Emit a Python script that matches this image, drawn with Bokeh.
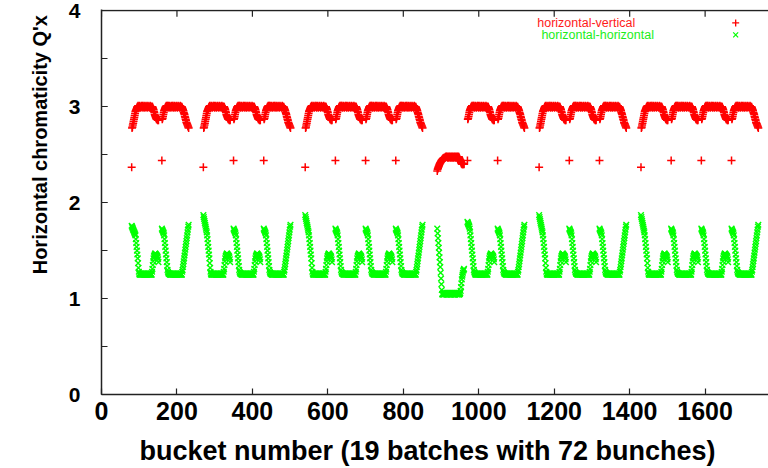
import numpy as np
from bokeh.plotting import figure
from bokeh.models import (Range1d, LinearAxis, SingleIntervalTicker, FixedTicker,
                          Label, Title, ColumnDataSource)
from bokeh.embed import file_html
from bokeh.resources import INLINE

# ---------------- data ----------------
BUNCHES_PER_BATCH = 72
BATCH_STARTS = [80, 160, 270, 350, 430, 540, 620, 700, 780, 890,
                970, 1050, 1160, 1240, 1320, 1430, 1510, 1590, 1670]
TRAIN_SIZES = [2, 3, 4, 3, 3, 4]
SPECIAL_BATCH = 9          # the batch with the low chromaticities
X_TICKS = [0, 200, 400, 600, 800, 1000, 1200, 1400, 1600]

# horizontal-vertical (red), per-bunch segments of a batch
RED_HEAD_TRAIN = [2.37, 2.78, 2.79, 2.81, 2.83, 2.85, 2.87, 2.89, 2.91, 2.93,
                  2.95, 2.96, 2.97, 2.98, 2.99, 3.00]
RED_HEAD_FOLLOW = [2.44, 2.87, 2.88, 2.90, 2.92, 2.94, 2.96, 2.97, 2.98, 2.99,
                   3.00, 3.00, 3.01, 3.00, 3.00, 3.01]
RED_MID = [3.00, 3.01, 3.00, 2.99, 3.00, 3.01, 3.00, 3.00, 2.99, 3.00,
           3.01, 3.00, 3.00, 3.01, 2.99, 3.00, 3.00, 3.01, 3.00, 2.99,
           3.00, 3.00, 3.01, 3.00, 3.00, 2.99, 3.00, 3.01, 3.00, 3.00,
           3.00, 2.99, 3.00, 3.01, 3.00, 3.00, 2.99, 3.00]
RED_TAIL_INNER = [3.00, 3.00, 2.99, 2.98, 2.97, 2.95, 2.94, 2.92, 2.91, 2.90,
                  2.89, 2.88, 2.87, 2.87, 2.87, 2.86, 2.87, 2.86]
RED_TAIL_LAST = [2.99, 2.98, 2.97, 2.96, 2.94, 2.93, 2.92, 2.90, 2.89, 2.87,
                 2.86, 2.84, 2.83, 2.82, 2.81, 2.80, 2.79, 2.78]
RED_SPECIAL_RISE = [2.33, 2.35, 2.36, 2.37, 2.38, 2.39, 2.40, 2.41, 2.42, 2.42,
                    2.43, 2.44, 2.44, 2.45, 2.45, 2.46, 2.46, 2.46, 2.47, 2.47,
                    2.47, 2.47, 2.48, 2.48, 2.48, 2.48]
RED_SPECIAL_FLAT = [2.48, 2.47, 2.48, 2.48, 2.47, 2.48, 2.48, 2.48, 2.47, 2.48,
                    2.48, 2.47, 2.48, 2.48, 2.48, 2.47, 2.48, 2.48, 2.47, 2.48,
                    2.48, 2.48, 2.47, 2.48, 2.48, 2.47, 2.48, 2.48, 2.48, 2.47,
                    2.48, 2.48]
RED_SPECIAL_DROP = [2.47, 2.46, 2.45, 2.44, 2.43, 2.42, 2.41, 2.41, 2.40, 2.40,
                    2.41, 2.40, 2.41, 2.40]

# horizontal-horizontal (green), per-bunch segments of a batch
GREEN_HEAD_FIRST = [1.76, 1.75, 1.74, 1.73, 1.72, 1.71, 1.70, 1.69, 1.68, 1.67,
                    1.66, 1.62, 1.58, 1.54, 1.50, 1.46, 1.42, 1.37, 1.32, 1.28]
GREEN_HEAD_TRAIN = [1.87, 1.85, 1.83, 1.81, 1.79, 1.77, 1.75, 1.73, 1.71, 1.69,
                    1.66, 1.62, 1.58, 1.54, 1.50, 1.46, 1.42, 1.37, 1.32, 1.28]
GREEN_HEAD_FOLLOW = [1.73, 1.72, 1.71, 1.70, 1.69, 1.68, 1.66, 1.62, 1.58, 1.54,
                     1.50, 1.46, 1.42, 1.38, 1.34, 1.30, 1.28, 1.27, 1.26, 1.26]
GREEN_HEAD_AFTER_SPECIAL = [1.80, 1.79, 1.78, 1.77, 1.76, 1.75, 1.73, 1.70, 1.66, 1.62,
                            1.58, 1.54, 1.50, 1.46, 1.42, 1.38, 1.34, 1.30, 1.28, 1.27]
GREEN_MID = [1.26, 1.25, 1.26, 1.25, 1.25, 1.26, 1.25, 1.26, 1.25, 1.25,
             1.26, 1.25, 1.25, 1.26, 1.25, 1.26, 1.25, 1.25, 1.26, 1.25,
             1.25, 1.26, 1.25, 1.26, 1.25, 1.25, 1.26, 1.25, 1.25, 1.26,
             1.25, 1.26, 1.25, 1.25]
GREEN_TAIL_INNER = [1.28, 1.31, 1.35, 1.39, 1.42, 1.44, 1.45, 1.46, 1.47, 1.47,
                    1.46, 1.46, 1.45, 1.45, 1.44, 1.43, 1.41, 1.38]
GREEN_TAIL_LAST = [1.28, 1.30, 1.33, 1.36, 1.39, 1.42, 1.45, 1.48, 1.51, 1.54,
                   1.57, 1.60, 1.63, 1.66, 1.69, 1.72, 1.75, 1.77]
GREEN_SPECIAL_DROP = [1.73, 1.68, 1.63, 1.58, 1.53, 1.48, 1.43, 1.38, 1.33, 1.27,
                      1.21, 1.15, 1.09]
GREEN_SPECIAL_FLAT = [1.05, 1.04, 1.05, 1.06, 1.05, 1.04, 1.05, 1.05, 1.06, 1.05,
                      1.05, 1.04, 1.05, 1.06, 1.05, 1.04, 1.05, 1.05, 1.06, 1.05,
                      1.05, 1.04, 1.05, 1.06, 1.05, 1.04, 1.05, 1.05, 1.06, 1.05,
                      1.05, 1.04, 1.05, 1.06, 1.05, 1.04, 1.05, 1.05, 1.06, 1.05,
                      1.05, 1.04, 1.05, 1.06, 1.05, 1.04, 1.05, 1.05, 1.06]
GREEN_SPECIAL_RISE = [1.08, 1.12, 1.16, 1.20, 1.23, 1.25, 1.27, 1.29, 1.30, 1.31]

SERIES_NAMES = ["horizontal-vertical", "horizontal-horizontal"]
X_TITLE = "bucket  number  (19 batches with 72 bunches)"
Y_TITLE = "Horizontal chromaticity  Q'x"

# ---------------- assemble per-bunch series ----------------
xs, red, green = [], [], []
b = 0
for size in TRAIN_SIZES:
    for k in range(size):
        last = (k == size - 1)
        if b == SPECIAL_BATCH:
            r = RED_SPECIAL_RISE + RED_SPECIAL_FLAT + RED_SPECIAL_DROP
            g = GREEN_SPECIAL_DROP + GREEN_SPECIAL_FLAT + GREEN_SPECIAL_RISE
        else:
            if k == 0:
                rh = RED_HEAD_TRAIN
                gh = GREEN_HEAD_FIRST if b == 0 else GREEN_HEAD_TRAIN
            else:
                rh = RED_HEAD_FOLLOW
                gh = GREEN_HEAD_AFTER_SPECIAL if b == SPECIAL_BATCH + 1 else GREEN_HEAD_FOLLOW
            r = rh + RED_MID + (RED_TAIL_LAST if last else RED_TAIL_INNER)
            g = gh + GREEN_MID + (GREEN_TAIL_LAST if last else GREEN_TAIL_INNER)
        assert len(r) == BUNCHES_PER_BATCH and len(g) == BUNCHES_PER_BATCH
        xs.extend(BATCH_STARTS[b] + np.arange(BUNCHES_PER_BATCH))
        red.extend(r)
        green.extend(g)
        b += 1

src = ColumnDataSource(dict(x=xs, red=red, green=green))

# ---------------- figure ----------------
FONT = "Liberation Sans"
Y_TOP = 4.0
p = figure(width=768, height=468, output_backend="svg", toolbar_location=None,
           x_range=Range1d(0, 1768), y_range=Range1d(0, Y_TOP + 0.015),
           min_border_left=101, min_border_right=0, min_border_top=9,
           min_border_bottom=74, x_axis_location=None, y_axis_location=None)
p.grid.visible = False
p.outline_line_color = None
p.background_fill_color = "white"
p.border_fill_color = "white"

xt = FixedTicker(ticks=X_TICKS)
yt = SingleIntervalTicker(interval=1, num_minor_ticks=2)

def style(ax):
    ax.axis_line_color = "#222222"
    ax.axis_line_width = 1.5
    ax.major_tick_line_color = "#222222"
    ax.minor_tick_line_color = "#222222"
    ax.major_tick_line_width = 1.2
    ax.minor_tick_line_width = 1.2
    ax.major_tick_in = 6
    ax.major_tick_out = 0
    ax.minor_tick_in = 6
    ax.minor_tick_out = 0
    ax.major_label_text_font = FONT
    ax.major_label_text_font_style = "bold"
    ax.major_label_text_color = "black"
    ax.axis_label_text_font = FONT
    ax.axis_label_text_font_style = "bold"
    ax.axis_label_text_color = "black"

xb = LinearAxis(ticker=xt, axis_label=X_TITLE)
style(xb)
xb.major_label_text_font_size = "25px"
xb.major_label_standoff = 7
xb.axis_label_standoff = 13
xb.axis_label_text_font_size = "27px"
p.add_layout(xb, "below")

yl = LinearAxis(ticker=yt)
style(yl)
yl.major_label_text_font_size = "21px"
yl.major_label_standoff = 21
p.add_layout(yl, "left")

# y axis title as a side title, aligned to the top end of the axis
p.add_layout(Title(text=Y_TITLE, align="right", standoff=30, text_font=FONT,
                   text_font_style="bold", text_font_size="20px",
                   text_color="black"), "left")

# top border of the frame with its inward ticks
p.hspan(y=[Y_TOP], line_color="#222222", line_width=1.5)
p.segment(x0=X_TICKS, y0=Y_TOP, x1=X_TICKS, y1=Y_TOP - 0.06,
          line_color="#222222", line_width=1.2)

# ---------------- data marks ----------------
p.scatter("x", "red", source=src, marker="cross", size=8, line_color="#ff0000",
          line_width=1.5)
p.scatter("x", "green", source=src, marker="x", size=8, line_color="#00ff00",
          line_width=1.4)

# ---------------- key (gnuplot style: text, then sample) ----------------
p.add_layout(Label(x=1155, y=3.87, text=SERIES_NAMES[0], text_font=FONT,
                   text_font_size="12.5px", text_color="#ff1a1a",
                   text_baseline="middle", text_align="left"))
p.add_layout(Label(x=1166, y=3.745, text=SERIES_NAMES[1], text_font=FONT,
                   text_font_size="12.5px", text_color="#1aee1a",
                   text_baseline="middle", text_align="left"))
p.scatter(x=[1681], y=[3.875], marker="cross", size=7, line_color="#ff0000",
          line_width=1.3)
p.scatter(x=[1681], y=[3.75], marker="x", size=7, line_color="#00ff00",
          line_width=1.2)

open("out.html", "w").write(file_html(p, INLINE))
